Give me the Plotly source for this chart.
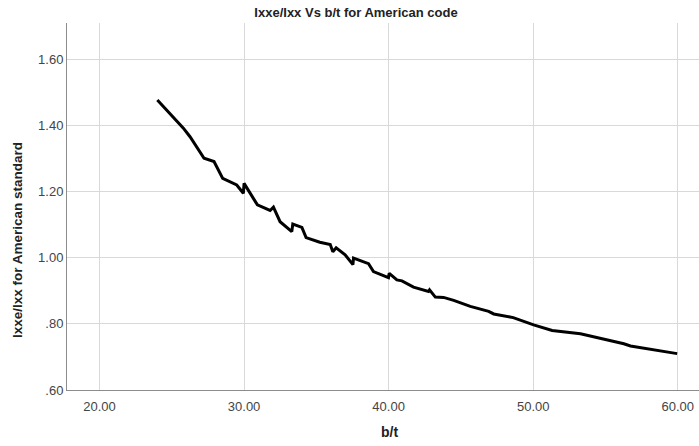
import plotly.graph_objects as go

bt = [24.0, 25.8, 26.26, 27.23, 27.92, 28.52, 29.49, 29.95, 30.0, 30.92, 31.80, 32.03,
      32.49, 33.30, 33.37, 34.0, 34.29, 35.24, 35.96, 36.14, 36.37, 36.99, 37.53, 37.57,
      38.61, 38.95, 39.99, 40.04, 40.57, 40.92, 41.72, 42.76, 42.83, 43.23, 43.80, 44.50,
      45.65, 46.92, 47.27, 48.62, 50.03, 51.31, 53.27, 56.27, 56.73, 59.96]
ratio = [1.477, 1.392, 1.366, 1.301, 1.291, 1.240, 1.220, 1.195, 1.225, 1.160, 1.143, 1.153,
         1.109, 1.079, 1.102, 1.092, 1.061, 1.047, 1.040, 1.018, 1.030, 1.009, 0.979, 0.999,
         0.982, 0.958, 0.940, 0.953, 0.933, 0.930, 0.911, 0.898, 0.903, 0.881, 0.880, 0.871,
         0.853, 0.838, 0.830, 0.819, 0.797, 0.780, 0.770, 0.740, 0.733, 0.710]

x_ticks = [20, 30, 40, 50, 60]
x_ticktext = ["20.00", "30.00", "40.00", "50.00", "60.00"]
y_ticks = [0.6, 0.8, 1.0, 1.2, 1.4, 1.6]
y_ticktext = [".60", ".80", "1.00", "1.20", "1.40", "1.60"]

font = "Liberation Sans"
W, H = 699, 446
L, R, T, B = 67, 0, 23, 56

fig = go.Figure()
fig.add_trace(go.Scatter(x=bt, y=ratio, mode="lines",
                         line=dict(color="black", width=3), showlegend=False))

fig.update_layout(
    width=W, height=H,
    margin=dict(l=L, r=R, t=T, b=B, autoexpand=False),
    paper_bgcolor="white", plot_bgcolor="white",
    font=dict(family=font, size=12, color="#333333"),
    title=dict(text="<b>Ixxe/Ixx Vs b/t for American code</b>",
               x=356 / W, xanchor="center", xref="container",
               y=1 - 12 / H, yanchor="middle", yref="container",
               font=dict(family=font, size=13, color="#222222")),
    xaxis=dict(range=[17.75, 61.47], tickvals=x_ticks, ticktext=x_ticktext,
               showgrid=True, gridcolor="#d9d9d9", gridwidth=1,
               showline=True, linecolor="#8c8c8c", linewidth=1,
               ticks="", zeroline=False, automargin=False, ticklabelstandoff=4,
               tickfont=dict(family=font, size=13, color="#444444")),
    yaxis=dict(range=[0.6, 1.71], tickvals=y_ticks, ticktext=y_ticktext,
               showgrid=True, gridcolor="#d9d9d9", gridwidth=1,
               showline=True, linecolor="#8c8c8c", linewidth=1,
               ticks="", zeroline=False, automargin=False,
               tickfont=dict(family=font, size=13, color="#444444")),
    annotations=[
        dict(text="<b>b/t</b>", xref="paper", yref="paper",
             x=(389 - L) / (W - L - R), y=-(432 - (H - B)) / (H - T - B),
             xanchor="center", yanchor="middle", showarrow=False,
             font=dict(family=font, size=14, color="#222222")),
        dict(text="<b>Ixxe/Ixx for American standard</b>", xref="paper", yref="paper",
             x=-(L - 18) / (W - L - R), y=((H - B) - 240) / (H - T - B),
             xanchor="center", yanchor="middle", textangle=-90, showarrow=False,
             font=dict(family=font, size=13.5, color="#222222")),
    ],
)

fig.write_html("out.html", config={"displayModeBar": False},
               post_script="document.body.style.margin='0';document.body.style.overflow='hidden';")
